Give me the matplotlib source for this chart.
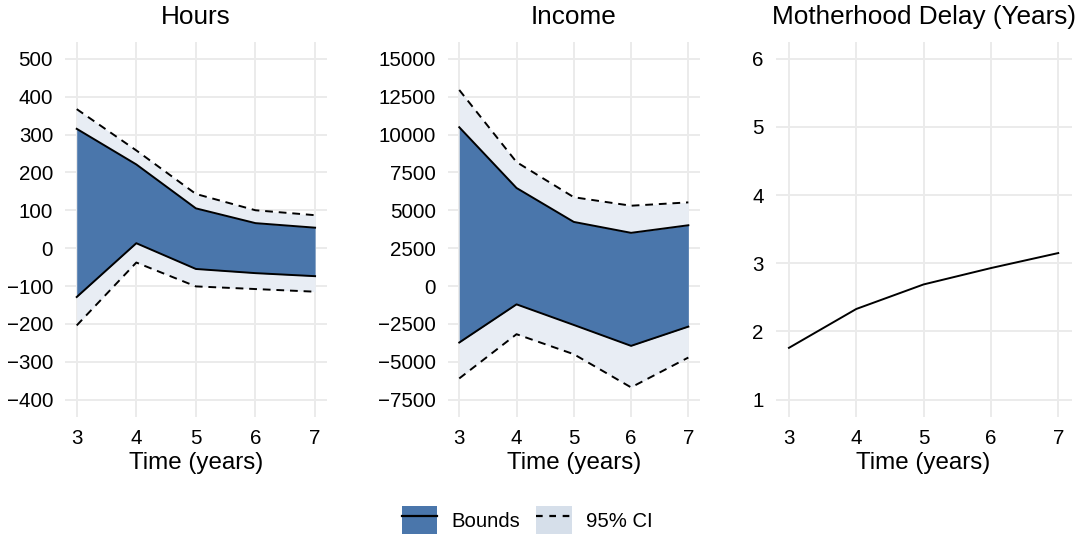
import numpy as np
import matplotlib
matplotlib.use("Agg")
import matplotlib.pyplot as plt
from matplotlib.patches import Patch
from matplotlib.lines import Line2D

plt.rcParams['font.family'] = ['Liberation Sans', 'DejaVu Sans']

# data
years = [3, 4, 5, 6, 7]

hours_upper = [315, 221, 105, 66, 54]
hours_lower = [-129, 13, -55, -66, -74]
hours_ci_upper = [367, 258, 143, 100, 87]
hours_ci_lower = [-204, -38, -101, -108, -115]

income_upper = [10480, 6470, 4230, 3510, 4010]
income_lower = [-3730, -1210, -2570, -3950, -2680]
income_ci_upper = [12940, 8180, 5860, 5300, 5520]
income_ci_lower = [-6100, -3180, -4500, -6690, -4720]

delay = [1.76, 2.33, 2.69, 2.93, 3.15]

hours_ticks = [-400, -300, -200, -100, 0, 100, 200, 300, 400, 500]
income_ticks = [-7500, -5000, -2500, 0, 2500, 5000, 7500, 10000, 12500, 15000]
delay_ticks = [1, 2, 3, 4, 5, 6]

DARK = '#4A76AB'
LIGHT = '#E8EDF4'
GRID = '#EBEBEB'
W, H = 1084, 540

fig = plt.figure(figsize=(W / 100, H / 100), dpi=100)


def make_ax(x0, x1):
    top, bottom = 41.7, 416.7
    return fig.add_axes([x0 / W, 1 - bottom / H, (x1 - x0) / W, (bottom - top) / H])


def style(ax, title, ticks):
    for s in ax.spines.values():
        s.set_visible(False)
    ax.set_xticks(years)
    ax.set_yticks(ticks)
    ax.set_yticklabels([str(t).replace('-', '\u2212') for t in ticks])
    ax.tick_params(length=0, labelsize=14.8, colors='black')
    ax.tick_params(axis='y', pad=8.4)
    ax.tick_params(axis='x', pad=8.5)
    ax.grid(True, color=GRID, linewidth=1.4)
    ax.set_axisbelow(True)
    ax.set_title(title, fontsize=18.8, pad=12.7)
    ax.set_xlabel('Time (years)', fontsize=17.4, labelpad=3.5)
    span = years[-1] - years[0]
    ax.set_xlim(years[0] - 0.05 * span, years[-1] + 0.05 * span)
    r = ticks[-1] - ticks[0]
    ax.set_ylim(ticks[0] - 0.05 * r, ticks[-1] + 0.05 * r)


def band_panel(ax, up, lo, ciu, cil):
    ax.fill_between(years, cil, ciu, color=LIGHT, linewidth=0, zorder=2)
    ax.fill_between(years, lo, up, color=DARK, linewidth=0, zorder=3)
    ax.plot(years, up, color='black', lw=1.4, zorder=4)
    ax.plot(years, lo, color='black', lw=1.4, zorder=4)
    ax.plot(years, ciu, color='black', lw=1.4, ls=(0, (4, 3)), zorder=4)
    ax.plot(years, cil, color='black', lw=1.4, ls=(0, (4, 3)), zorder=4)


ax1 = make_ax(64.8, 327.0)
band_panel(ax1, hours_upper, hours_lower, hours_ci_upper, hours_ci_lower)
style(ax1, 'Hours', hours_ticks)

ax2 = make_ax(447.8, 699.8)
band_panel(ax2, income_upper, income_lower, income_ci_upper, income_ci_lower)
style(ax2, 'Income', income_ticks)

ax3 = make_ax(775.5, 1071.7)
ax3.plot(years, delay, color='black', lw=1.4, zorder=4)
style(ax3, 'Motherhood Delay (Years)', delay_ticks)

handles = [
    (Patch(facecolor=DARK, edgecolor='none'), Line2D([], [], color='black', lw=1.6)),
    (Patch(facecolor='#D6DFEA', edgecolor='none'), Line2D([], [], color='black', lw=1.6, ls=(0, (3, 3)))),
]
fig.legend(handles, ['Bounds', '95% CI'], loc='center', bbox_to_anchor=(527 / W, 1 - 520 / H),
           ncol=2, frameon=False, fontsize=14.6, handlelength=1.75, handleheight=1.75,
           handletextpad=0.7, columnspacing=0.8, borderpad=0)

fig.savefig('out.png', dpi=100)
